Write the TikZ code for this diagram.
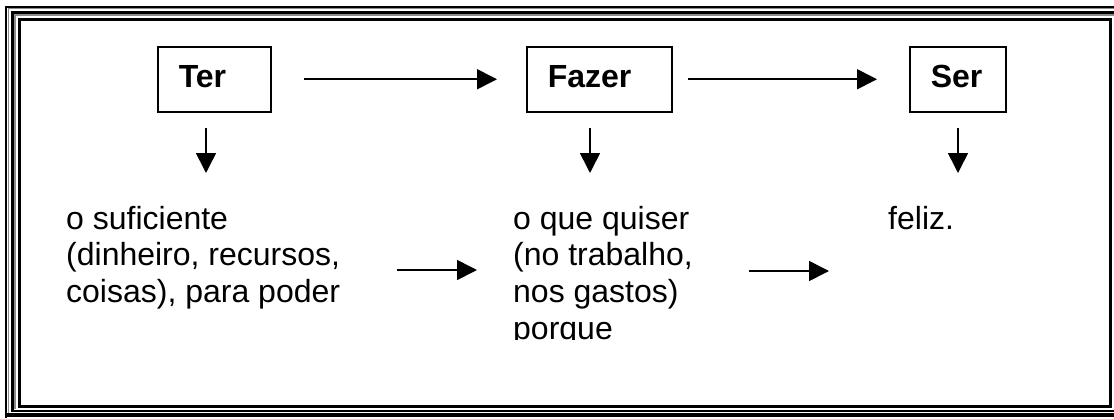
\documentclass[tikz,border=0pt]{standalone}
\usepackage{fontspec}
\setmainfont{Liberation Sans}
\usetikzlibrary{arrows.meta}
\begin{document}
\begin{tikzpicture}[x=1pt,y=-1pt,
  arr/.style={line width=1.6pt, -{Triangle[length=20pt,width=20pt]}},
  lbox/.style={draw, line width=1.5pt, anchor=north west, minimum height=65pt,
    inner xsep=21pt, inner ysep=0pt, align=left,
    font=\fontsize{32}{36.8}\selectfont\bfseries, text height=23pt, text depth=6pt},
  body/.style={anchor=base west, inner sep=0pt, font=\fontsize{32}{36.8}\selectfont},
  shade/.style={draw=black!45, line width=1.3pt}]
\useasboundingbox (0,0) rectangle (1114,418);
% triple frame
\draw[line width=2.3pt] (1130,7) -- (6,7) -- (6,418);
\draw[line width=4.3pt] (6,415.2) -- (1130,415.2);
\draw[shade] (1130,8.8) -- (8.2,8.8) -- (8.2,412.6);
\draw[line width=3.3pt] (1130,12.7) -- (12.7,12.7) -- (12.7,411.2);
\draw[line width=2.5pt] (11.1,411.2) -- (1130,411.2);
\draw[shade] (1130,15.1) -- (15.1,15.1) -- (15.1,408.8);
\draw[line width=2.7pt] (19.7,19.7) rectangle (1110.3,406.8);
% boxes
\node[lbox, text width=71pt] (ter) at (157,46) {Ter};
\node[lbox, text width=103pt] (fazer) at (526,46) {Fazer};
\node[lbox, text width=54pt] (ser) at (909,46) {Ser};
% top arrows
\draw[arr, shorten <=32pt, shorten >=29pt] (ter.east) -- (fazer.west);
\draw[arr, shorten <=15pt, shorten >=32pt] (fazer.east) -- (ser.west);
% down arrows
\coordinate (d1) at (206,173);
\coordinate (d2) at (590,173);
\coordinate (d3) at (958,173);
\draw[arr, shorten <=15pt] (ter.south -| d1) -- (d1);
\draw[arr, shorten <=15pt] (fazer.south -| d2) -- (d2);
\draw[arr, shorten <=15pt] (ser.south -| d3) -- (d3);
% texts
\node[body] (t1) at (66,229) {\begin{tabular}[t]{@{}l@{}}o suficiente\\(dinheiro, recursos,\\coisas), para poder\end{tabular}};
\begin{scope}
\clip (0,0) rectangle (1114,339.5);
\node[body] (t2) at (513,229) {\begin{tabular}[t]{@{}l@{}}o que quiser\\(no trabalho,\\nos gastos)\\porque\end{tabular}};
\end{scope}
\node[body] (t3) at (888,229) {feliz.};
% bottom arrows
\coordinate (b1s) at (397,270);
\coordinate (b1e) at (477,270);
\coordinate (b2s) at (749,271);
\coordinate (b2e) at (829,271);
\draw[arr] (b1s) -- (b1e);
\draw[arr] (b2s) -- (b2e);
\end{tikzpicture}
\end{document}
